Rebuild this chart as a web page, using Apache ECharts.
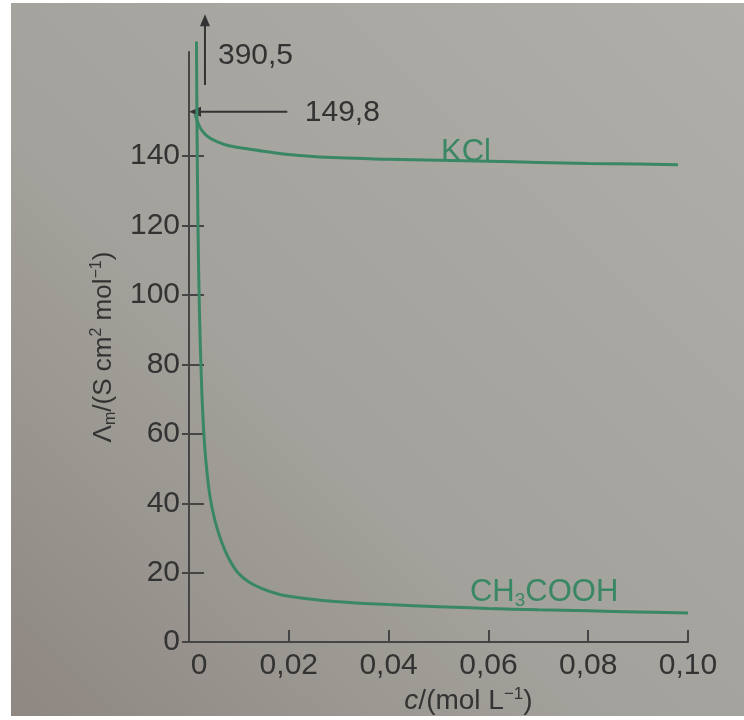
<!DOCTYPE html>
<html>
<head>
<meta charset="utf-8">
<script src="https://cdn.jsdelivr.net/npm/echarts@6/dist/echarts.min.js"></script>
<style>
  html, body { margin: 0; padding: 0; background: #fff; }
  #paper {
    position: absolute; left: 11px; top: 3px; width: 733px; height: 713px;
    background: linear-gradient(to top right, #8e8782 0%, #a3a19b 40%, #afaea8 100%);
  }
  #myChart { position: absolute; left: 0; top: 0; width: 744px; height: 720px; }
</style>
</head>
<body>
<div id="paper"></div>
<div id="myChart"></div>
<script>
  // 浓度 c/(mol L^-1) 与摩尔电导率 Λm/(S cm² mol^-1)
  const kclC = [0.0012, 0.0017, 0.0022, 0.0028, 0.0038, 0.0056, 0.008, 0.0122, 0.017, 0.0222, 0.03, 0.04, 0.05, 0.06, 0.07, 0.08, 0.09, 0.098]
  const kclL = [152, 150, 148.3, 147, 145.6, 144.2, 143, 142, 141, 140.2, 139.5, 139.1, 138.8, 138.5, 138.2, 137.9, 137.7, 137.5]
  const acC = [0.0015, 0.0016, 0.0018, 0.0021, 0.0025, 0.0029, 0.0034, 0.0042, 0.0052, 0.0065, 0.008, 0.0098, 0.012, 0.0145, 0.018, 0.022, 0.03, 0.04, 0.05, 0.06, 0.07, 0.08, 0.09, 0.1]
  const acL = [173, 150, 120, 95, 75, 62, 52, 42, 35, 29, 24, 20, 17.3, 15.5, 13.8, 12.8, 11.6, 10.8, 10.2, 9.7, 9.3, 9.0, 8.7, 8.4]

  const xTicks = [0, 0.02, 0.04, 0.06, 0.08, 0.10]
  const yTicks = [0, 20, 40, 60, 80, 100, 120, 140]

  // 极限摩尔电导率标注
  const limitLabels = ['390,5', '149,8']

  const green = '#3a8765'
  const ink = '#333333'
  const axisInk = '#454545'
  const font = '"Liberation Sans", Arial, sans-serif'

  let myChart = echarts.init(document.getElementById('myChart'))

  const fmtX = function(v) {
    if (v === 0) return '{z|0}'
    return v.toFixed(2).replace('.', ',')
  }

  myChart.setOption({
    backgroundColor: 'transparent',
    animation: false,
    textStyle: { fontFamily: font },
    grid: { left: 189, right: 56, top: 52, bottom: 75 },
    xAxis: {
      type: 'value',
      min: 0,
      max: 0.1,
      name: '{i|c}/(mol L{sup|−1})',
      nameLocation: 'middle',
      nameGap: 40,
      nameTextStyle: {
        color: ink, fontSize: 28, fontFamily: font, padding: [0, 0, 0, 60],
        rich: {
          i: { fontStyle: 'italic', fontSize: 28, color: ink, fontFamily: font },
          sup: { fontSize: 17, color: ink, verticalAlign: 'top', lineHeight: 30, fontFamily: font }
        }
      },
      axisLine: { show: true, lineStyle: { color: axisInk, width: 2 } },
      axisTick: { show: true, inside: true, length: 12, customValues: xTicks.slice(1), lineStyle: { color: axisInk, width: 2 } },
      axisLabel: {
        customValues: xTicks,
        formatter: fmtX,
        color: ink, fontSize: 30, margin: 9,
        rich: { z: { padding: [0, 0, 0, 20], fontSize: 30, color: ink } }
      },
      splitLine: { show: false }
    },
    yAxis: [{
      type: 'value',
      min: 0,
      max: 170,
      position: 'left',
      name: '{n|Λ}{sub|m}/(S cm{sup|2} mol{sup|−1})',
      nameLocation: 'middle',
      nameRotate: 90,
      nameGap: 62,
      nameTextStyle: {
        color: ink, fontSize: 26, fontFamily: font,
        rich: {
          n: { fontSize: 26, color: ink, fontFamily: font },
          sub: { fontSize: 16, color: ink, verticalAlign: 'bottom', lineHeight: 30, fontFamily: font },
          sup: { fontSize: 16, color: ink, verticalAlign: 'top', lineHeight: 30, fontFamily: font }
        }
      },
      axisLine: { show: true, lineStyle: { color: axisInk, width: 2 } },
      axisTick: { show: true, length: 7, customValues: yTicks, lineStyle: { color: axisInk, width: 2 } },
      axisLabel: { customValues: yTicks, color: ink, fontSize: 30, margin: 9 },
      splitLine: { show: false }
    }, {
      // 刻度穿过坐标轴，内侧部分
      type: 'value',
      min: 0,
      max: 170,
      position: 'left',
      axisLine: { show: false },
      axisTick: { show: true, inside: true, length: 15, customValues: yTicks, lineStyle: { color: axisInk, width: 2 } },
      axisLabel: { show: false },
      splitLine: { show: false }
    }],
    series: [{
      name: 'KCl',
      type: 'line',
      showSymbol: false,
      smooth: 0.4,
      clip: false,
      lineStyle: { color: green, width: 3 },
      data: kclC.map((c, i) => [c, kclL[i]])
    }, {
      name: 'CH3COOH',
      type: 'line',
      showSymbol: false,
      smooth: 0.4,
      clip: false,
      lineStyle: { color: green, width: 3 },
      data: acC.map((c, i) => [c, acL[i]])
    }]
  })

  // 标注与曲线名称，用数据坐标换算位置
  const px = (c, v) => myChart.convertToPixel({ gridIndex: 0 }, [c, v])
  const upFrom = px(0.0032, 160.5), upTo = px(0.0032, 178)
  const leftFrom = px(0.0197, 152.8), leftTo = px(0.0006, 152.8)
  const lab1 = px(0.0058, 169)
  const lab2 = px(0.0232, 152.5)
  const kclLab = px(0.0555, 141.2)
  const acLab = px(0.0563, 14.3)

  myChart.setOption({
    graphic: [
      { type: 'line', silent: true, shape: { x1: upFrom[0], y1: upFrom[1], x2: upTo[0], y2: upTo[1] }, style: { stroke: '#333', lineWidth: 2 } },
      { type: 'polygon', silent: true, shape: { points: [[upTo[0], upTo[1] - 10], [upTo[0] - 5, upTo[1] + 2], [upTo[0] + 5, upTo[1] + 2]] }, style: { fill: '#333' } },
      { type: 'line', silent: true, shape: { x1: leftFrom[0], y1: leftFrom[1], x2: leftTo[0], y2: leftTo[1] }, style: { stroke: '#333', lineWidth: 2 } },
      { type: 'polygon', silent: true, shape: { points: [[leftTo[0] - 3, leftTo[1]], [leftTo[0] + 9, leftTo[1] - 5], [leftTo[0] + 9, leftTo[1] + 5]] }, style: { fill: '#333' } },
      { type: 'text', silent: true, x: lab1[0], y: lab1[1], style: { text: limitLabels[0], fill: ink, fontSize: 30, fontFamily: font, verticalAlign: 'middle', align: 'left' } },
      { type: 'text', silent: true, x: lab2[0], y: lab2[1], style: { text: limitLabels[1], fill: ink, fontSize: 30, fontFamily: font, verticalAlign: 'middle', align: 'left' } },
      { type: 'text', silent: true, x: kclLab[0], y: kclLab[1], style: { text: 'KCl', fill: green, fontSize: 31, fontFamily: font, verticalAlign: 'middle', align: 'center' } },
      {
        type: 'text', silent: true, x: acLab[0], y: acLab[1],
        style: {
          text: 'CH{s|3}COOH', fill: green, fontSize: 31, fontFamily: font, verticalAlign: 'middle', align: 'left',
          rich: { s: { fontSize: 19, fill: green, verticalAlign: 'bottom', lineHeight: 36, fontFamily: font } }
        }
      }
    ]
  })
</script>
</body>
</html>
